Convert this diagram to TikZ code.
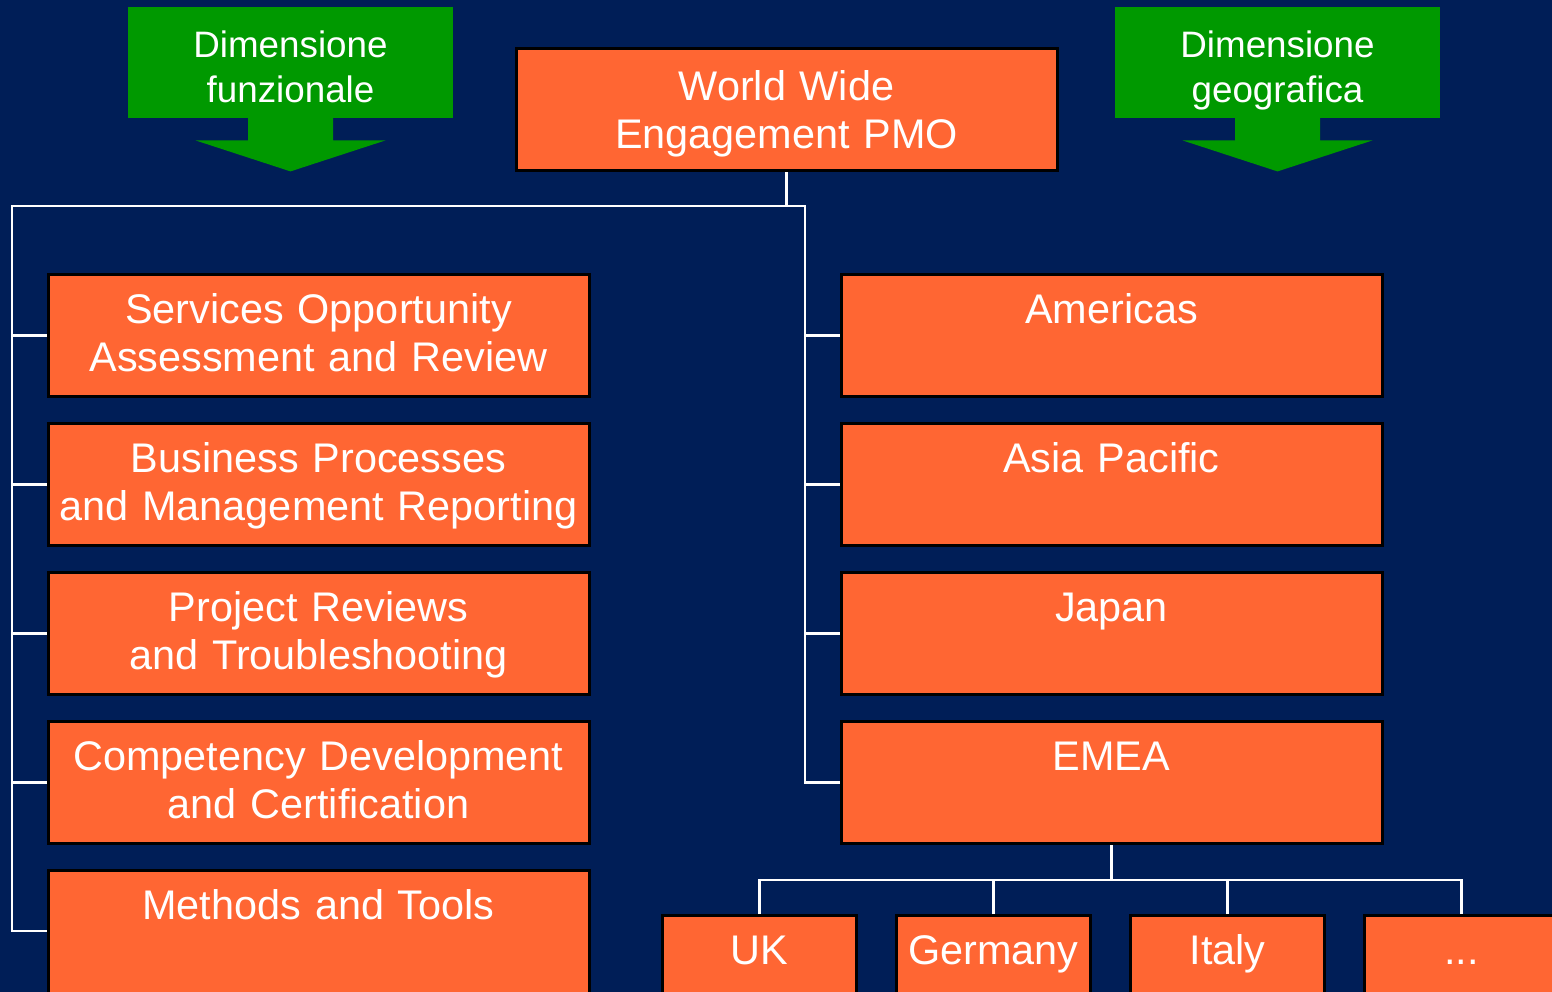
\documentclass[tikz,border=0pt]{standalone}
\usepackage{fontspec}
\setmainfont{Liberation Sans}
\usetikzlibrary{positioning}
\definecolor{bgnavy}{RGB}{0,30,87}
\definecolor{unitorange}{RGB}{255,102,51}
\definecolor{dimgreen}{RGB}{0,153,0}
\newcommand{\unitfont}{\fontsize{20.7pt}{24pt}\selectfont}
\newcommand{\dimfont}{\fontsize{18.4pt}{22.5pt}\selectfont}
\tikzstyle{unit} = [rectangle, draw=black, line width=1.5pt, fill=unitorange, text=white, font=\unitfont, align=center, inner sep=0pt, text width=270.5pt, text height=24.25pt, text depth=36.75pt]
\tikzstyle{country} = [unit, text width=97pt, text depth=56.75pt]
\tikzstyle{dimbox} = [rectangle, fill=dimgreen, text=white, font=\dimfont, align=center, inner sep=0pt, text width=162.5pt, text height=25pt, text depth=30.5pt]
\tikzstyle{line} = [draw=white, line width=1.1pt]

\begin{document}
\begin{tikzpicture}[x=0.5pt, y=-0.5pt, node distance=74.5pt]
    \useasboundingbox (0,0) rectangle (1552,991);
    \fill[bgnavy] (-10,-10) rectangle (1562,1001);
    % Place nodes
    \node [unit, text height=25.75pt, text depth=35.25pt] (pmo) at (786.5,109.5) {World Wide\\Engagement PMO};
    \node [dimbox] (funz) at (290.5,62.5) {Dimensione\\funzionale};
    \node [dimbox] (geo) at (1277.5,62.5) {Dimensione\\geografica};
    \node [unit] (soar) at (318.5,335.5) {Services Opportunity\\Assessment and Review};
    \node [unit, below of=soar] (bpmr) {Business Processes\\and Management Reporting};
    \node [unit, below of=bpmr] (prt) {Project Reviews\\and Troubleshooting};
    \node [unit, below of=prt] (cdc) {Competency Development\\and Certification};
    \node [unit, below of=cdc, text depth=56.75pt, yshift=-10pt] (mt) {Methods and Tools};
    \node [unit] (amer) at (1111.5,335.5) {Americas};
    \node [unit, below of=amer] (apac) {Asia Pacific};
    \node [unit, below of=apac] (japan) {Japan};
    \node [unit, below of=japan] (emea) {EMEA};
    \node [country] (uk) at (759.5,996.5) {UK};
    \node [country, right of=uk, node distance=117pt] (de) {Germany};
    \node [country, right of=de, node distance=117pt] (it) {Italy};
    \node [country, right of=it, node distance=117pt] (more) {...};
    \coordinate (ltop) at (12,206);
    \coordinate (rtop) at (805,206);
    \coordinate [below=17.5pt of emea.south] (ehub);
    % Green arrows
    \fill [dimgreen] ([xshift=-21.25pt, yshift=1pt]funz.south) -- ++(0,-12pt) -- ++(-26.25pt,0)
        -- ([yshift=-26.5pt]funz.south) -- ++(47.5pt,15.5pt) -- ++(-26.25pt,0) -- ++(0,12pt) -- cycle;
    \fill [dimgreen] ([xshift=-21.25pt, yshift=1pt]geo.south) -- ++(0,-12pt) -- ++(-26.25pt,0)
        -- ([yshift=-26.5pt]geo.south) -- ++(47.5pt,15.5pt) -- ++(-26.25pt,0) -- ++(0,12pt) -- cycle;
    % Draw edges
    \path [line] (pmo.south) -- (pmo.south |- rtop);
    \path [line] (mt.west |- 0,931) -| (ltop) -- (rtop) |- (emea.west);
    \foreach \n in {soar,bpmr,prt,cdc}
        \path [line] (\n.west) -- (\n.west -| ltop);
    \foreach \n in {amer,apac,japan}
        \path [line] (\n.west) -- (\n.west -| rtop);
    \path [line] (emea.south) -- (ehub);
    \path [line] (uk.north) |- (ehub) -| (more.north);
    \foreach \n in {de,it}
        \path [line] (\n.north) -- (\n.north |- ehub);
\end{tikzpicture}
\end{document}
